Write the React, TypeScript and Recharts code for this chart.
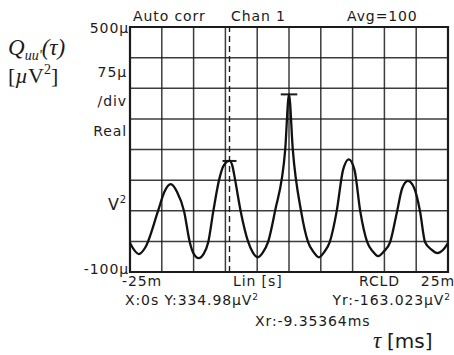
import React from "react";
import {
  LineChart,
  Line,
  XAxis,
  YAxis,
  CartesianGrid,
  ReferenceLine,
  ReferenceArea,
} from "recharts";

// lag tau in ms
const tauMs = [
  -25, -24.3, -23.6, -22.6, -20.6, -19.6, -18.6, -17.6, -16.5, -15.6, -15.0,
  -14.2, -13.4, -12.7, -11.9, -11.0, -10.3, -9.35, -8.9, -8.5, -7.6, -6.4,
  -5.7, -4.9, -4.1, -3.3, -2.2, -0.6, 0, 0.6, 1.9, 3.0, 3.9, 4.7, 5.5, 6.4,
  7.5, 8.5, 9.4, 10.3, 11.2, 12.3, 13.2, 14.0, 14.9, 15.9, 17.0, 17.8, 18.7,
  19.7, 20.6, 21.4, 22.4, 23.3, 24.2, 25,
];
// autocorrelation in µV²
const corrValues = [
  -29, -47, -56, -40, 49, 96, 115, 96, 49, -27, -55, -66, -55, -27, 49, 125,
  160, 172, 160, 128, 49, -27, -52, -64, -52, -27, 49, 199, 335, 199, 49, -27,
  -52, -64, -52, -27, 49, 150, 176, 150, 49, -27, -50, -61, -50, -27, 49, 105,
  123, 105, 49, -27, -45, -54, -46, -29,
];

const xTicks = [-25, -20, -15, -10, -5, 0, 5, 10, 15, 20, 25];
const yTicks = [-100, -25, 50, 125, 200, 275, 350, 425, 500];

const cursorX = -9.35364;
const cursorY = 171.96;
const peakY = 334.98;

const data = tauMs.map((t, i) => ({ tau: t, q: corrValues[i] }));

const font = "'DejaVu Sans', sans-serif";
const ink = "#1b1b1b";

export default function App() {
  return (
    <div style={{ position: "absolute", left: 0, top: 0, width: 454, height: 355, background: "#fff" }}>
      <LineChart
        width={454}
        height={355}
        data={data}
        margin={{ top: 27, right: 6, bottom: 83, left: 130 }}
      >
        <CartesianGrid stroke={ink} strokeWidth={1.5} strokeOpacity={0.85} />
        <XAxis
          type="number"
          dataKey="tau"
          domain={[-25, 25]}
          ticks={xTicks}
          hide
        />
        <YAxis type="number" domain={[-100, 500]} ticks={yTicks} hide />
        <ReferenceArea
          x1={-25}
          x2={25}
          y1={-100}
          y2={500}
          fill="none"
          fillOpacity={0}
          stroke={ink}
          strokeWidth={2.2}
        />
        <ReferenceLine
          x={cursorX}
          stroke={ink}
          strokeWidth={1.4}
          strokeDasharray="6 4"
        />
        <ReferenceLine
          segment={[
            { x: -1.3, y: peakY },
            { x: 1.3, y: peakY },
          ]}
          stroke={ink}
          strokeWidth={2}
        />
        <ReferenceLine
          segment={[
            { x: cursorX - 1.1, y: cursorY },
            { x: cursorX + 1.1, y: cursorY },
          ]}
          stroke={ink}
          strokeWidth={2}
        />
        <Line
          type="monotone"
          dataKey="q"
          stroke="#111"
          strokeWidth={2.3}
          dot={false}
          isAnimationActive={false}
        />
      </LineChart>
      <svg
        width={454}
        height={355}
        style={{ position: "absolute", left: 0, top: 0, pointerEvents: "none" }}
      >
        <g fontFamily="'Liberation Serif', serif" fill={ink} fontStyle="italic">
          <text x={8} y={55} fontSize={23}>
            Q
            <tspan fontSize={14} dy={5}>uu'</tspan>
            <tspan fontSize={23} dy={-5}>(τ)</tspan>
          </text>
          <text x={8} y={83} fontSize={22} fontStyle="normal">
            [<tspan fontStyle="italic">µ</tspan>V
            <tspan fontSize={14} dy={-9}>2</tspan>
            <tspan dy={9}>]</tspan>
          </text>
          <text x={373} y={348} fontSize={23}>
            τ <tspan fontStyle="normal" fontFamily={font} fontSize={20}>[ms]</tspan>
          </text>
        </g>
        <g fontFamily={font} fill={ink} fontSize={14} letterSpacing={0.9}>
          <text x={133} y={21}>Auto corr</text>
          <text x={231} y={21}>Chan 1</text>
          <text x={347} y={21}>Avg=100</text>

          <text x={129} y={33} textAnchor="end">500µ</text>
          <text x={127} y={77} textAnchor="end">75µ</text>
          <text x={127} y={106} textAnchor="end">/div</text>
          <text x={127} y={136} textAnchor="end">Real</text>
          <text x={127} y={210} textAnchor="end" fontSize={16}>
            V<tspan fontSize={10} dy={-7}>2</tspan>
          </text>
          <text x={129} y={274} textAnchor="end">-100µ</text>

          <text x={122} y={286}>-25m</text>
          <text x={233} y={286}>Lin [s]</text>
          <text x={359} y={286}>RCLD</text>
          <text x={455} y={286} textAnchor="end">25m</text>

          <text x={125} y={305}>
            X:0s  Y:334.98µV<tspan fontSize={9} dy={-5}>2</tspan>
          </text>
          <text x={451} y={305} textAnchor="end">
            Yr:-163.023µV<tspan fontSize={9} dy={-5}>2</tspan>
          </text>
          <text x={255} y={326}>Xr:-9.35364ms</text>
        </g>
      </svg>
    </div>
  );
}
